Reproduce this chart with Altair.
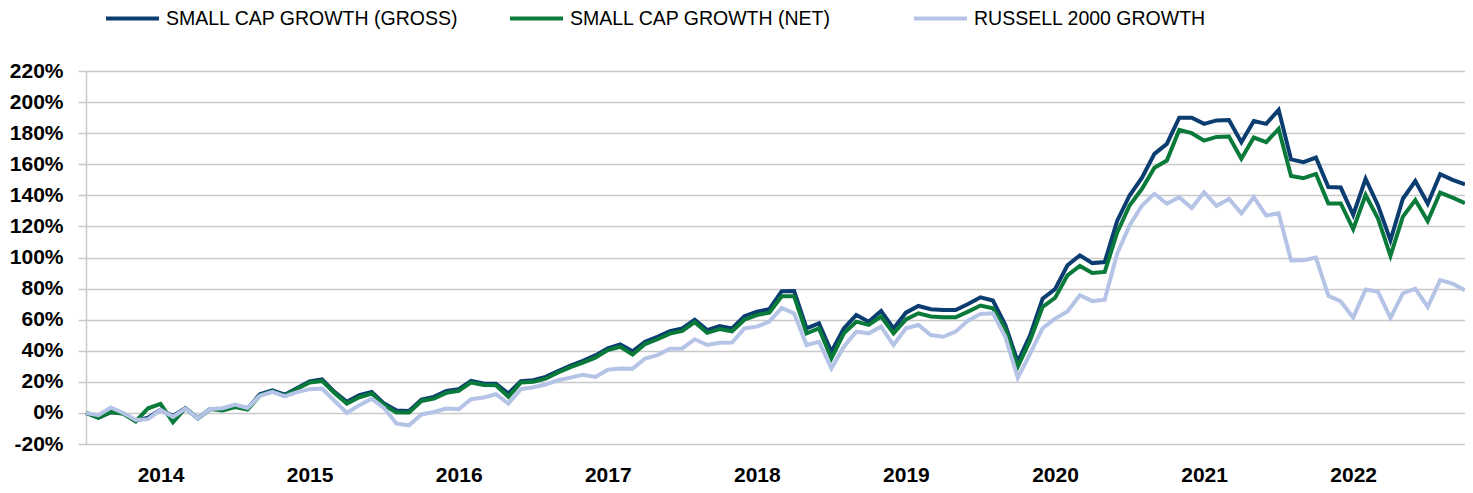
import altair as alt
import pandas as pd

# Cumulative return (%) at each month-end, starting Dec 2013 (index 0) through Mar 2023
gross = [0, -3, 0.5, -0.3, -5, -3, 2, -2, 3, -3.5, 2.5, 2.5, 4.5, 2.8, 12, 14.5, 11.7, 16, 20.3, 21.6,
         13.5, 7.1, 11.4, 13.5, 6, 1.5, 1.3, 8.6, 10.3, 14.2, 15.3, 20.6, 18.9, 18.7, 12.5, 20.4, 21, 23.2,
         27, 30.4, 33.5, 37, 41.5, 44, 39.7, 45.8, 49, 52.6, 54.4, 60, 53.3, 55.9, 54.4, 62.2, 65.2, 66.7,
         78.3, 78.5, 54.4, 57.6, 39.4, 54.4, 63, 58.7, 65.6, 54.4, 64.5, 68.8, 66.7, 66.2, 66.2, 70.1, 74.4,
         72.3, 56.5, 32.8, 50, 73.5, 79.6, 95, 101.4, 96.4, 97.1, 123.5, 139.9, 151.3, 166.7, 173.1, 190,
         190, 186, 188.2, 188.5, 174.2, 187.8, 186, 195, 163.1, 161.3, 164.3, 145.3, 145, 127.4, 150.6,
         133.5, 111, 137.8, 149.2, 134.6, 153.6, 150, 147]
net = [0, -3.2, 0.5, -0.5, -5.5, 3, 5.8, -6, 3, -3.5, 2.5, 1.5, 3.8, 2.1, 11.3, 13.8, 11, 15.5, 19.6, 20.6,
       12.8, 6, 10.1, 12.5, 4.9, 0.2, 0.2, 7.7, 9.2, 12.9, 14.2, 19.6, 18, 17.8, 10.3, 19.6, 20, 22,
       26, 29.5, 32.3, 35.6, 40.4, 42.6, 37.5, 44.3, 47.4, 51, 52.8, 58.4, 51.5, 53.9, 52.5, 60, 63, 64.5,
       75, 75, 51.2, 54.4, 35, 51.2, 58.7, 56.6, 62, 51.2, 60.2, 64.1, 62, 61.5, 61.5, 65.2, 69.1,
       67.3, 54, 29.6, 46.8, 68.2, 74, 88.5, 94.6, 90, 90.7, 116, 133.5, 144.2, 157.7, 162.4, 182.1,
       180, 175.2, 177.6, 177.9, 163.5, 177.2, 174.2, 182.7, 152.5, 151, 153.8, 134.8, 134.8, 118.2, 140.2,
       125, 101.1, 126.3, 137, 123.4, 141.8, 138.5, 135]
russell = [0, -1.5, 3.5, 0, -4.5, -4, 2, -2.5, 2.8, -3.5, 2.5, 3, 5.4, 3.2, 11, 13.5, 10.6, 13.4, 15.3, 15.7,
           7.8, 0, 5, 9.2, 3, -6.9, -8, -1, 0.6, 2.8, 2.4, 8.8, 9.9, 12, 6, 15.3, 16.5, 18.3,
           21, 22.7, 24.5, 23.2, 27.8, 28.6, 28.4, 35, 37.2, 41.3, 41.5, 47.4, 43.7, 45.2, 45.3, 54.4, 55.5, 58.7,
           67.5, 64, 43.7, 45.8, 28.6, 42.6, 52.3, 51.2, 55.5, 43.7, 54.4, 56.6, 50.1, 49, 52.3, 59.4, 63.7,
           64.1, 49, 22.5, 38.2, 54.5, 60.7, 65.3, 75.7, 71.9, 72.9, 102.4, 120.6, 133.5, 141, 134.6, 138.8,
           131.8, 142, 133.2, 137.8, 128.4, 138.8, 127, 128.4, 98.1, 98.3, 100, 75.4, 71.7, 61.3, 79.4,
           77.9, 61.1, 77, 80, 68.2, 85.4, 83.2, 79]

series_names = ["SMALL CAP GROWTH (GROSS)", "SMALL CAP GROWTH (NET)", "RUSSELL 2000 GROWTH"]
series_colors = ["#0b3d70", "#0a7a3a", "#b4c3e6"]
year_labels = [2014, 2015, 2016, 2017, 2018, 2019, 2020, 2021, 2022]
y_ticks = [-20, 0, 20, 40, 60, 80, 100, 120, 140, 160, 180, 200, 220]

rows = []
for name, vals in zip(series_names, [gross, net, russell]):
    for i, v in enumerate(vals):
        rows.append({"month": i, "value": v, "series": name})
df = pd.DataFrame(rows)

# mid-year positions (month index) of each year label
year_pos = [(y - 2014) * 12 + 6 for y in year_labels]

color_scale = alt.Scale(domain=series_names, range=series_colors)

x_enc = alt.X(
    "month:Q",
    scale=alt.Scale(domain=[0, len(gross) - 1], nice=False, zero=False),
    axis=alt.Axis(
        values=year_pos,
        labelExpr="2013 + (datum.value + 6) / 12",
        grid=False, domain=False, ticks=False,
        labelFont="Liberation Sans", labelFontWeight="bold", labelFontSize=21,
        labelColor="#000000", labelPadding=20, title="",
    ),
)
y_enc = alt.Y(
    "value:Q",
    scale=alt.Scale(domain=[-20, 220], nice=False),
    axis=alt.Axis(
        values=y_ticks,
        labelExpr="datum.value + '%'",
        grid=True, gridColor="#c9c9c9", gridWidth=1.5,
        domain=True, domainColor="#c9c9c9", domainWidth=1.5,
        ticks=True, tickSize=8, tickColor="#c9c9c9", tickWidth=1.5,
        labelFont="Liberation Sans", labelFontWeight="bold", labelFontSize=21,
        labelColor="#000000", labelPadding=15, title="",
    ),
)
color_enc = alt.Color(
    "series:N",
    scale=color_scale,
    sort=series_names,
    legend=alt.Legend(
        title="", orient="none", direction="horizontal", columns=3,
        legendX=18, legendY=-81, gridAlign="all", columnPadding=43,
        symbolType="stroke", symbolSize=2809, symbolStrokeWidth=4,
        labelOffset=5, labelLimit=500,
        labelFont="Liberation Sans", labelFontSize=19.5, labelColor="#000000",
    ),
)

layers = []
for name in series_names:
    layers.append(
        alt.Chart(df)
        .transform_filter(alt.datum.series == name)
        .mark_line(strokeWidth=4, strokeJoin="miter", strokeCap="butt")
        .encode(x=x_enc, y=y_enc, color=color_enc)
    )

chart = (
    alt.layer(*layers)
    .properties(
        width=1379, height=373,
        autosize=alt.AutoSizeParams(type="none"),
        padding={"left": 78, "top": 63, "right": 0, "bottom": 45},
    )
    .configure_view(stroke=None)
    .configure(background="#ffffff")
)

chart.save("out.html", embed_options={"renderer": "svg", "actions": False})
